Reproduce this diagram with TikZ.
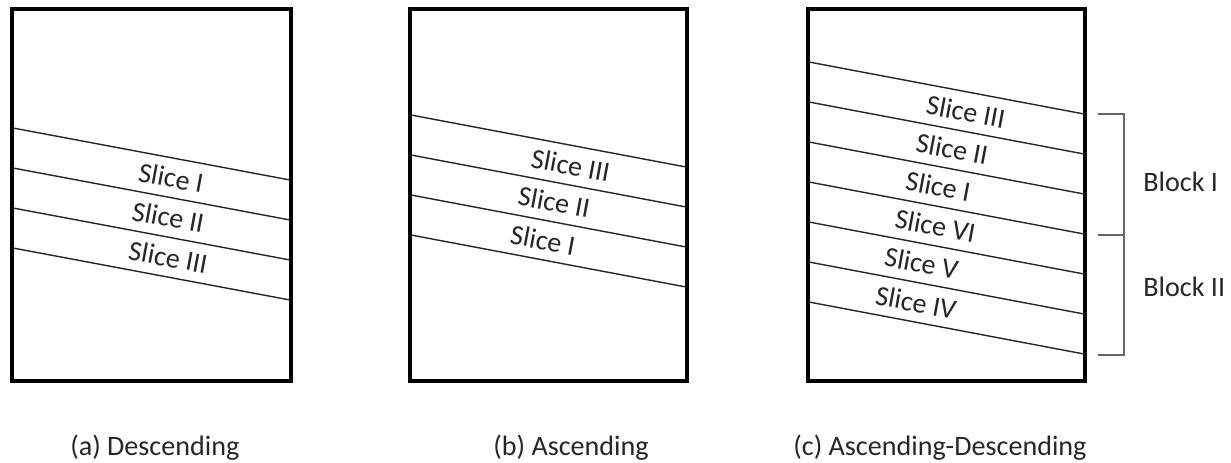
\documentclass[tikz,border=0pt]{standalone}
\usepackage{fontspec}
\setmainfont{Carlito}
\begin{document}
\begin{tikzpicture}[x=0.02cm,y=-0.02cm,
    frame/.style={line width=2pt},
    cut/.style={line width=0.8pt, black!85},
    lbl/.style={font=\fontsize{16}{19}\selectfont, text=black!85, inner sep=0pt},
    brace/.style={line width=0.7pt, black!60}]
  \useasboundingbox (0,0) rectangle (1231,463);

  % (a) descending
  \draw[frame] (12,9) rectangle (291,381);
  \foreach \y in {128,168,208,248}
    \draw[cut] (13,\y) -- (290,\y+52);
  \foreach \y/\p/\t [count=\i] in {128/0.57/I, 168/0.56/II, 208/0.56/III}
    \path (12,\y+20) -- (291,\y+72) node[lbl, sloped, pos=\p] (sa\i) {Slice \t};

  % (b) ascending
  \draw[frame] (410,9) rectangle (687,381);
  \foreach \y in {115,155,195,235}
    \draw[cut] (411,\y) -- (686,\y+52);
  \foreach \y/\p/\t [count=\i] in {115/0.58/III, 155/0.52/II, 195/0.48/I}
    \path (410,\y+20) -- (687,\y+72) node[lbl, sloped, pos=\p] (sb\i) {Slice \t};

  % (c) ascending-descending
  \draw[frame] (808,9) rectangle (1085,381);
  \foreach \y in {62,102,142,182,222,262,302}
    \draw[cut] (809,\y) -- (1084,\y+52);
  \foreach \y/\p/\t [count=\i] in {62/0.57/III, 102/0.52/II, 142/0.47/I, 182/0.46/VI, 222/0.41/V, 262/0.39/IV}
    \path (808,\y+20) -- (1085,\y+72) node[lbl, sloped, pos=\p] (sc\i) {Slice \t};

  % blocks
  \coordinate (t1) at (1098,114);
  \coordinate (t2) at (1098,235);
  \coordinate (t3) at (1098,355);
  \draw[brace] (t1) -- ++(26,0) |- (t3);
  \draw[brace] (t2) -- ++(26,0);
  \node[lbl, anchor=west] (blk1) at (1143,182) {Block I};
  \node[lbl, anchor=west] (blk2) at (1143,287) {Block II};

  % captions
  \node[lbl, anchor=base west] (capa) at (70,455) {(a) Descending};
  \node[lbl, anchor=base west] (capb) at (493,455) {(b) Ascending};
  \node[lbl, anchor=base west] (capc) at (793,455) {(c) Ascending-Descending};
\end{tikzpicture}
\end{document}
